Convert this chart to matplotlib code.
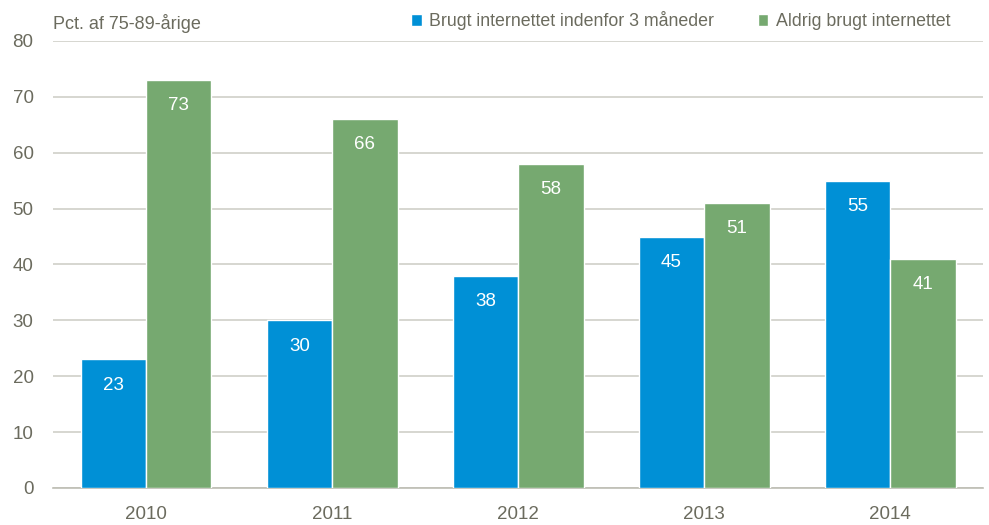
import numpy as np
import matplotlib.pyplot as plt

years = ["2010", "2011", "2012", "2013", "2014"]
brugt = [23, 30, 38, 45, 55]
aldrig = [73, 66, 58, 51, 41]
series_names = ["Brugt internettet indenfor 3 måneder", "Aldrig brugt internettet"]
colors = ["#0090D6", "#76A970"]
text_col = "#6B6B5E"

plt.rcParams['font.family'] = ['Liberation Sans', 'DejaVu Sans']

fig = plt.figure(figsize=(9.89, 5.25), dpi=100)
ax = fig.add_axes([0.0536, 0.0705, 0.9404, 0.8515])

x = np.arange(len(years))
w = 0.352
for i, (vals, name) in enumerate(zip([brugt, aldrig], series_names)):
    pos = x + (i - 0.5) * w
    bars = ax.bar(pos, vals, w, color=colors[i], edgecolor="white", linewidth=1, label=name, zorder=3)
    for b, v in zip(bars, vals):
        ax.annotate(str(v), (b.get_x() + b.get_width() / 2, v), xytext=(0, -18.5),
                    textcoords="offset points", ha="center", va="center",
                    color="white", fontsize=13.5, zorder=4)

ax.set_xlim(-0.5, len(years) - 0.5)
ax.set_ylim(0, 80)
ax.set_yticks(range(0, 81, 10))
ax.set_xticks(x)
ax.set_xticklabels(years)
ax.grid(axis="y", color="#CFCFC8", linewidth=1.2, zorder=0)
for s in ["top", "right", "left"]:
    ax.spines[s].set_visible(False)
ax.spines["bottom"].set_color("#BDBDB4")
ax.spines["bottom"].set_linewidth(1.2)
ax.tick_params(axis="both", length=0, labelsize=13.5, colors=text_col)
ax.tick_params(axis="y", pad=14)
ax.tick_params(axis="x", pad=13)

fig.text(0.0536, 0.955, "Pct. af 75-89-årige", fontsize=13, color=text_col, va="center")
ax.legend(loc="lower right", bbox_to_anchor=(0.976, 1.0), ncol=2, frameon=False,
          fontsize=12.8, labelcolor=text_col, handlelength=0.6, handleheight=0.6,
          handletextpad=0.4, columnspacing=2.45, borderaxespad=0.2)

fig.savefig("out.png", dpi=100)
